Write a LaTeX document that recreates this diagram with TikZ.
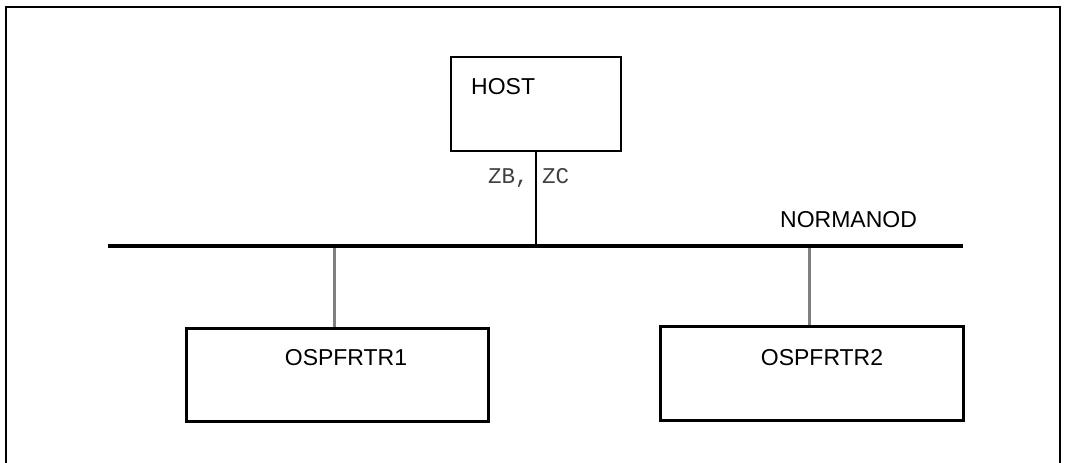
\documentclass[tikz,border=0pt]{standalone}
\usepackage{fontspec}
\setmainfont{Liberation Sans}
\newfontfamily\monofont{Liberation Mono}
\usepackage{tikz}
\usetikzlibrary{positioning, calc}

\begin{document}
\begin{tikzpicture}[x=1pt, y=-1pt,
  frame/.style={draw, line width=2pt},
  box/.style={rectangle, draw, line width=3pt, inner sep=0pt},
  hostbox/.style={rectangle, draw, line width=2pt, inner sep=0pt},
  lbl/.style={font=\fontsize{23}{26}\selectfont, inner sep=0pt},
  conn/.style={font=\monofont\fontsize{22.5}{25}\selectfont, text=black!75, inner sep=0pt},
  bus/.style={line width=4pt},
  link/.style={line width=2pt},
  tap/.style={line width=3pt, draw=black!50}
]
  \useasboundingbox (0,0) rectangle (1066,463);
  \draw[frame] (6,463) -- (6,7) -- (1060,7) -- (1060,463);

  \node[hostbox, minimum width=170pt, minimum height=94pt] (host) at (536,104) {};
  \node[box, minimum width=302pt, minimum height=93pt] (rtr1) at (337,374.5) {};
  \node[box, minimum width=303pt, minimum height=94pt] (rtr2) at (811.5,373) {};

  \node[lbl, anchor=base west] (hostlbl) at (471,94) {HOST};
  \node[lbl, anchor=base] (rtr1lbl) at (346,365) {OSPFRTR1};
  \node[lbl, anchor=base] (rtr2lbl) at (822,365) {OSPFRTR2};
  \node[lbl, anchor=base west] (netlbl) at (780,227) {NORMANOD};

  % network bus
  \coordinate (busL) at (108,246);
  \coordinate (busR) at (963,246);
  \coordinate (tap1) at (334,248);
  \coordinate (tap2) at (809,248);
  \draw[bus] (busL) -- (busR);

  \draw[link] (host.south) -- (host.south |- busL);
  \node[conn, anchor=base west] (zbzc) at (488,183) {ZB, ZC};
  \draw[tap] (tap1) -- (tap1 |- rtr1.north);
  \draw[tap] (tap2) -- (tap2 |- rtr2.north);
\end{tikzpicture}
\end{document}
